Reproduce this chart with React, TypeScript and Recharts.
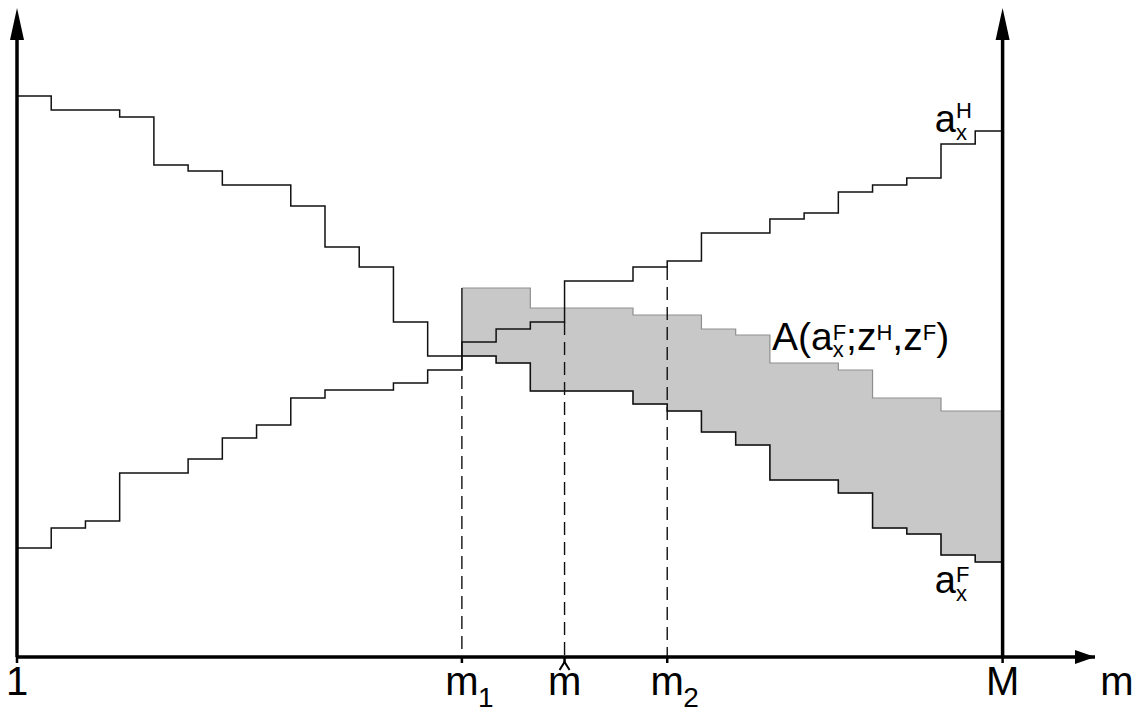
import React from 'react';
import { ComposedChart, Line, Area, XAxis, YAxis, ReferenceLine, ReferenceDot } from 'recharts';

const FONT = '"Liberation Sans", Arial, Helvetica, sans-serif';

// step start positions (in steps of m, 0 == "1"), last entry == M
const stepX = [0, 1, 2, 3, 4, 5, 6, 7, 8, 9, 10, 11, 12, 13, 14, 15, 16, 17, 18, 19, 20, 21, 22, 23, 24, 25, 26, 27, 28, 28.8];
// a_x^H (rising step line)
const aH = [109, 129, 136, 184, 184, 198, 219, 232, 259, 267, 267, 274, 287, 315, 328, 335, 376, 376, 390, 396, 424, 424, 438, 444, 465, 472, 479, 513, 526, 526];
// a_x^F (falling step line)
const aF = [561, 547, 547, 540, 492, 486, 472, 472, 451, 410, 390, 335, 301, 301, 294, 266, 266, 266, 253, 246, 225, 212, 177, 177, 164, 129, 123, 102, 95, 95];
// upper edge of the shaded set A(a_x^F; z^H, z^F)
const aUpper = [null, null, null, null, null, null, null, null, null, null, null, null, null, 369, 369, 349, 349, 349, 342, 342, 328, 322, 294, 294, 287, 259, 259, 246, 246, 246];

const xDomain = [0, 31.5];
const yDomain = [0, 650];
const tickValues = [0, 13, 16, 19, 28.8];
const tickLabels = [
  { main: '1' },
  { main: 'm', sub: '1' },
  { main: 'm', hat: true },
  { main: 'm', sub: '2' },
  { main: 'M' },
];
const M_X = 28.8;
const m1Index = 13;
const mHatIndex = 15;
const m2Index = 18;

const data = stepX.map((x, i) => ({
  x,
  aH: aH[i],
  aF: aF[i],
  band: aUpper[i] == null ? null : [aF[i], aUpper[i]],
}));

const AxisTick = (props: any) => {
  const { x, y, payload } = props;
  const idx = tickValues.indexOf(payload.value);
  const lab = tickLabels[idx] || { main: String(payload.value) };
  const base = y + 30;
  return (
    <g>
      <text x={x} y={base} textAnchor="middle" fontSize={40} fontFamily={FONT} fill="#000">
        {lab.main}
      </text>
      {lab.sub ? (
        <text x={x + 16} y={base + 12} fontSize={28} fontFamily={FONT} fill="#000">
          {lab.sub}
        </text>
      ) : null}
      {lab.hat ? (
        <path d={`M${x - 5},${base - 25} L${x},${base - 33} L${x + 5},${base - 25}`} stroke="#000" strokeWidth={2} fill="none" />
      ) : null}
    </g>
  );
};

const axisTitle = (props: any) => {
  const vb = props.viewBox || {};
  return (
    <text x={vb.x + vb.width + 22} y={vb.y + 38} textAnchor="middle" fontSize={40} fontFamily={FONT} fill="#000">
      m
    </text>
  );
};

const upArrow = (p: any) => (
  <path d={`M${p.cx},${p.cy} L${p.cx - 7},${p.cy + 32} L${p.cx + 7},${p.cy + 32} Z`} fill="#000" />
);
const rightArrow = (p: any) => (
  <path d={`M${p.cx},${p.cy} L${p.cx - 20},${p.cy - 7} L${p.cx - 20},${p.cy + 7} Z`} fill="#000" />
);

const labelAH = (p: any) => (
  <text x={p.cx} y={p.cy} fontSize={38} fontFamily={FONT} fill="#000">
    a
    <tspan fontSize={22} dy={8.5}>x</tspan>
    <tspan fontSize={22} dx={-11} dy={-22.5}>H</tspan>
  </text>
);
const labelAF = (p: any) => (
  <text x={p.cx} y={p.cy} fontSize={38} fontFamily={FONT} fill="#000">
    a
    <tspan fontSize={22} dy={8.5}>x</tspan>
    <tspan fontSize={22} dx={-11} dy={-19.5}>F</tspan>
  </text>
);
const labelA = (p: any) => (
  <text x={p.cx} y={p.cy} fontSize={39} fontFamily={FONT} fill="#000">
    A(a
    <tspan fontSize={22} dy={7}>x</tspan>
    <tspan fontSize={22} dx={-11} dy={-17.5}>F</tspan>
    <tspan dy={10.5}>;z</tspan>
    <tspan fontSize={22} dy={-10.5}>H</tspan>
    <tspan dy={10.5}>,z</tspan>
    <tspan fontSize={22} dy={-10.5}>F</tspan>
    <tspan dy={10.5}>)</tspan>
  </text>
);

const labelSpots = [
  { key: 'aH', x: 26.82, y: 525.5, render: labelAH },
  { key: 'aF', x: 26.82, y: 64.5, render: labelAF },
  { key: 'A', x: 22.06, y: 307, render: labelA },
];

export default function App() {
  const guides = [
    { x: stepX[m1Index], top: aF[m1Index] },
    { x: stepX[16], top: aH[mHatIndex] },
    { x: stepX[19], top: aH[m2Index] },
  ];
  return (
    <div style={{ position: 'absolute', left: 0, top: 0, width: 1144, height: 713, background: '#fff' }}>
      <ComposedChart width={1144} height={713} data={data} margin={{ top: 7, right: 49, bottom: 6, left: 17 }}>
        <XAxis
          dataKey="x"
          type="number"
          domain={xDomain}
          ticks={tickValues}
          interval={0}
          height={50}
          allowDataOverflow
          axisLine={{ stroke: '#000', strokeWidth: 3.5 }}
          tickLine={{ stroke: '#000', strokeWidth: 2.5 }}
          tickSize={6}
          tick={<AxisTick />}
          label={axisTitle}
        />
        <YAxis type="number" domain={yDomain} hide allowDataOverflow />
        <Area
          dataKey="band"
          type="stepAfter"
          fill="#c8c8c8"
          fillOpacity={1}
          stroke="#8f8f8f"
          strokeWidth={1.2}
          isAnimationActive={false}
          dot={false}
          activeDot={false}
        />
        {guides.map((g, i) => (
          <ReferenceLine
            key={'g' + i}
            segment={[{ x: g.x, y: g.top }, { x: g.x, y: 0 }]}
            stroke="#111"
            strokeWidth={1.4}
            strokeDasharray="13 7"
          />
        ))}
        <ReferenceLine
          segment={[{ x: stepX[m1Index], y: aF[m1Index] }, { x: stepX[m1Index], y: aUpper[m1Index] as number }]}
          stroke="#222"
          strokeWidth={1.5}
        />
        <Line dataKey="aF" type="stepAfter" stroke="#111" strokeWidth={1.5} dot={false} activeDot={false} isAnimationActive={false} />
        <Line dataKey="aH" type="stepAfter" stroke="#111" strokeWidth={1.5} dot={false} activeDot={false} isAnimationActive={false} />
        <ReferenceLine segment={[{ x: 0, y: 0 }, { x: 0, y: 625 }]} stroke="#000" strokeWidth={3.5} />
        <ReferenceLine segment={[{ x: M_X, y: 0 }, { x: M_X, y: 625 }]} stroke="#000" strokeWidth={3.5} />
        <ReferenceDot x={0} y={649} r={0} ifOverflow="visible" shape={upArrow} />
        <ReferenceDot x={M_X} y={649} r={0} ifOverflow="visible" shape={upArrow} />
        <ReferenceDot x={xDomain[1]} y={0} r={0} ifOverflow="visible" shape={rightArrow} />
        {labelSpots.map((l) => (
          <ReferenceDot key={l.key} x={l.x} y={l.y} r={0} ifOverflow="visible" shape={l.render} />
        ))}
      </ComposedChart>
    </div>
  );
}
